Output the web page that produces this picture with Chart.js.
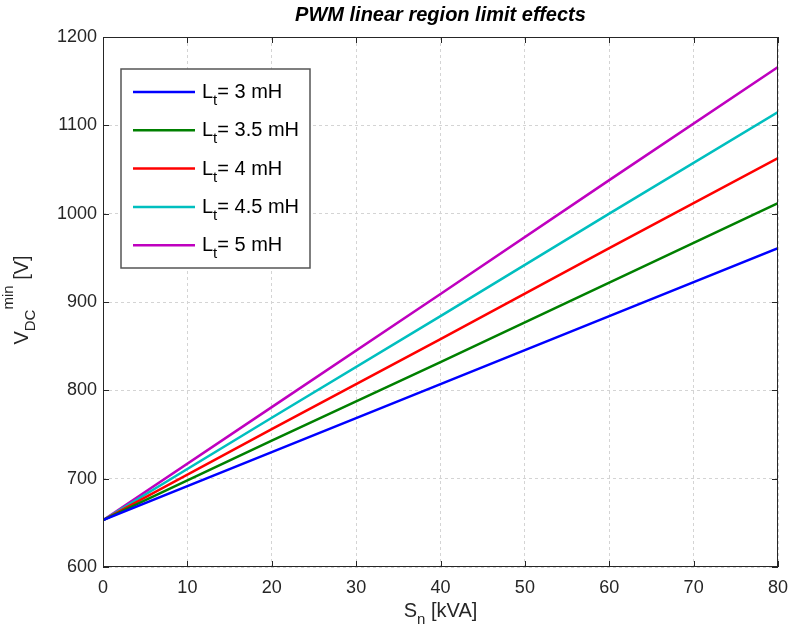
<!DOCTYPE html>
<html lang="en">
<head>
    <meta charset="UTF-8">
    <title>PWM linear region limit effects</title>
    <script src="https://cdn.jsdelivr.net/npm/chart.js"></script>
    <style>
        body {
            margin: 0;
            padding: 0;
            background: #ffffff;
        }
        #wrap {
            width: 790px;
            height: 633px;
        }
    </style>
</head>
<body>
    <div id="wrap">
        <canvas id="chart" width="790" height="633"></canvas>
    </div>

    <script>
        // data
        const sn = [0, 20, 40, 60, 80]; // S_n [kVA]
        const inductances = ['3', '3.5', '4', '4.5', '5']; // L_t [mH]
        const v3 = [653, 730, 807, 884, 961];
        const v35 = [653, 743, 832, 922, 1012];
        const v4 = [653, 756, 858, 961, 1063];
        const v45 = [653, 769, 884, 1000, 1115];
        const v5 = [653, 781, 909, 1038, 1166];
        const xTicks = [0, 10, 20, 30, 40, 50, 60, 70, 80];
        const yTicks = [600, 700, 800, 900, 1000, 1100, 1200];

        const seriesValues = [v3, v35, v4, v45, v5];
        const colors = ['#0000ff', '#008000', '#ff0000', '#00bfbf', '#bf00bf'];
        const FONT = "'Liberation Sans', Arial, sans-serif";
        const AXIS = '#262626';

        const datasets = seriesValues.map((vals, i) => ({
            label: 'Lt= ' + inductances[i] + ' mH',
            data: vals.map((v, j) => ({ x: sn[j], y: v })),
            borderColor: colors[i],
            backgroundColor: colors[i],
            borderWidth: 2.5,
            pointRadius: 0,
            fill: false,
            tension: 0,
        }));

        // draws text made of parts (normal / sub / superscript) centered at x
        function drawRich(ctx, parts, cx, y) {
            let total = 0;
            parts.forEach(p => {
                ctx.font = p.size + 'px ' + FONT;
                p.w = ctx.measureText(p.t).width;
                total += p.w;
            });
            let x = cx - total / 2;
            parts.forEach(p => {
                ctx.font = p.size + 'px ' + FONT;
                ctx.fillText(p.t, x, y + (p.dy || 0));
                x += p.w;
            });
        }

        const decorations = {
            id: 'decorations',
            afterDraw(chart) {
                const ctx = chart.ctx;
                const a = chart.chartArea;
                const xs = chart.scales.x;
                const ys = chart.scales.y;
                ctx.save();

                // frame + inside ticks
                ctx.strokeStyle = AXIS;
                ctx.lineWidth = 1;
                ctx.strokeRect(a.left + 0.5, a.top + 0.5, a.right - a.left - 1, a.bottom - a.top - 1);
                ctx.beginPath();
                xTicks.forEach(t => {
                    const px = Math.round(xs.getPixelForValue(t)) + 0.5;
                    ctx.moveTo(px, a.bottom); ctx.lineTo(px, a.bottom - 6);
                    ctx.moveTo(px, a.top); ctx.lineTo(px, a.top + 6);
                });
                yTicks.forEach(t => {
                    const py = Math.round(ys.getPixelForValue(t)) + 0.5;
                    ctx.moveTo(a.left, py); ctx.lineTo(a.left + 6, py);
                    ctx.moveTo(a.right, py); ctx.lineTo(a.right - 6, py);
                });
                ctx.stroke();

                // title
                ctx.fillStyle = '#000000';
                ctx.textAlign = 'center';
                ctx.textBaseline = 'alphabetic';
                ctx.font = 'italic bold 20px ' + FONT;
                ctx.fillText('PWM linear region limit effects', (a.left + a.right) / 2, 21);

                // x axis title
                ctx.textAlign = 'left';
                ctx.fillStyle = AXIS;
                drawRich(ctx, [
                    { t: 'S', size: 20 },
                    { t: 'n', size: 15, dy: 7 },
                    { t: ' [kVA]', size: 20 },
                ], (a.left + a.right) / 2, 617);

                // y axis title
                ctx.save();
                ctx.translate(28, (a.top + a.bottom) / 2 - 2);
                ctx.rotate(-Math.PI / 2);
                drawRich(ctx, [
                    { t: 'V', size: 20 },
                    { t: 'DC', size: 15, dy: 7 },
                    { t: 'min', size: 15, dy: -15 },
                    { t: ' [V]', size: 20 },
                ], 0, 0);
                ctx.restore();

                // legend
                const lx = 121, ly = 69, lw = 189, lh = 199;
                ctx.fillStyle = '#ffffff';
                ctx.fillRect(lx, ly, lw, lh);
                ctx.strokeStyle = '#555555';
                ctx.lineWidth = 1.5;
                ctx.strokeRect(lx, ly, lw, lh);
                inductances.forEach((L, i) => {
                    const ry = 92 + i * 38.3;
                    ctx.strokeStyle = colors[i];
                    ctx.lineWidth = 2.5;
                    ctx.beginPath();
                    ctx.moveTo(133, ry);
                    ctx.lineTo(195, ry);
                    ctx.stroke();
                    ctx.fillStyle = '#000000';
                    let x = 202;
                    const base = ry + 6;
                    ctx.font = '20px ' + FONT;
                    ctx.fillText('L', x, base);
                    x += ctx.measureText('L').width;
                    ctx.font = '15px ' + FONT;
                    ctx.fillText('t', x, base + 7);
                    x += ctx.measureText('t').width;
                    ctx.font = '20px ' + FONT;
                    ctx.fillText('= ' + L + ' mH', x, base);
                });

                ctx.restore();
            }
        };

        const ctx = document.getElementById('chart').getContext('2d');
        new Chart(ctx, {
            type: 'line',
            data: { datasets: datasets },
            options: {
                responsive: false,
                animation: false,
                layout: { autoPadding: false, padding: { top: 37, right: 12, left: 0, bottom: 0 } },
                plugins: {
                    legend: { display: false },
                    title: { display: false },
                    tooltip: { enabled: false },
                },
                scales: {
                    x: {
                        type: 'linear',
                        min: 0,
                        max: 80,
                        afterFit(scale) {
                            scale.height = 66;
                            scale.paddingLeft = 0;
                            scale.paddingRight = 0;
                        },
                        afterBuildTicks(scale) { scale.ticks = xTicks.map(v => ({ value: v })); },
                        grid: { color: '#d4d4d4', drawTicks: false, lineWidth: 1 },
                        border: { display: false, dash: [3, 3] },
                        ticks: {
                            color: AXIS,
                            padding: 10,
                            maxRotation: 0,
                            font: { family: FONT, size: 18 },
                            callback: v => String(v),
                        },
                    },
                    y: {
                        type: 'linear',
                        min: 600,
                        max: 1200,
                        afterFit(scale) {
                            scale.width = 103;
                            scale.paddingTop = 0;
                            scale.paddingBottom = 0;
                        },
                        afterBuildTicks(scale) { scale.ticks = yTicks.map(v => ({ value: v })); },
                        grid: { color: '#d4d4d4', drawTicks: false, lineWidth: 1 },
                        border: { display: false, dash: [3, 3] },
                        ticks: {
                            color: AXIS,
                            padding: 6,
                            font: { family: FONT, size: 18 },
                            callback: v => String(v),
                        },
                    },
                },
            },
            plugins: [decorations],
        });
    </script>
</body>
</html>
